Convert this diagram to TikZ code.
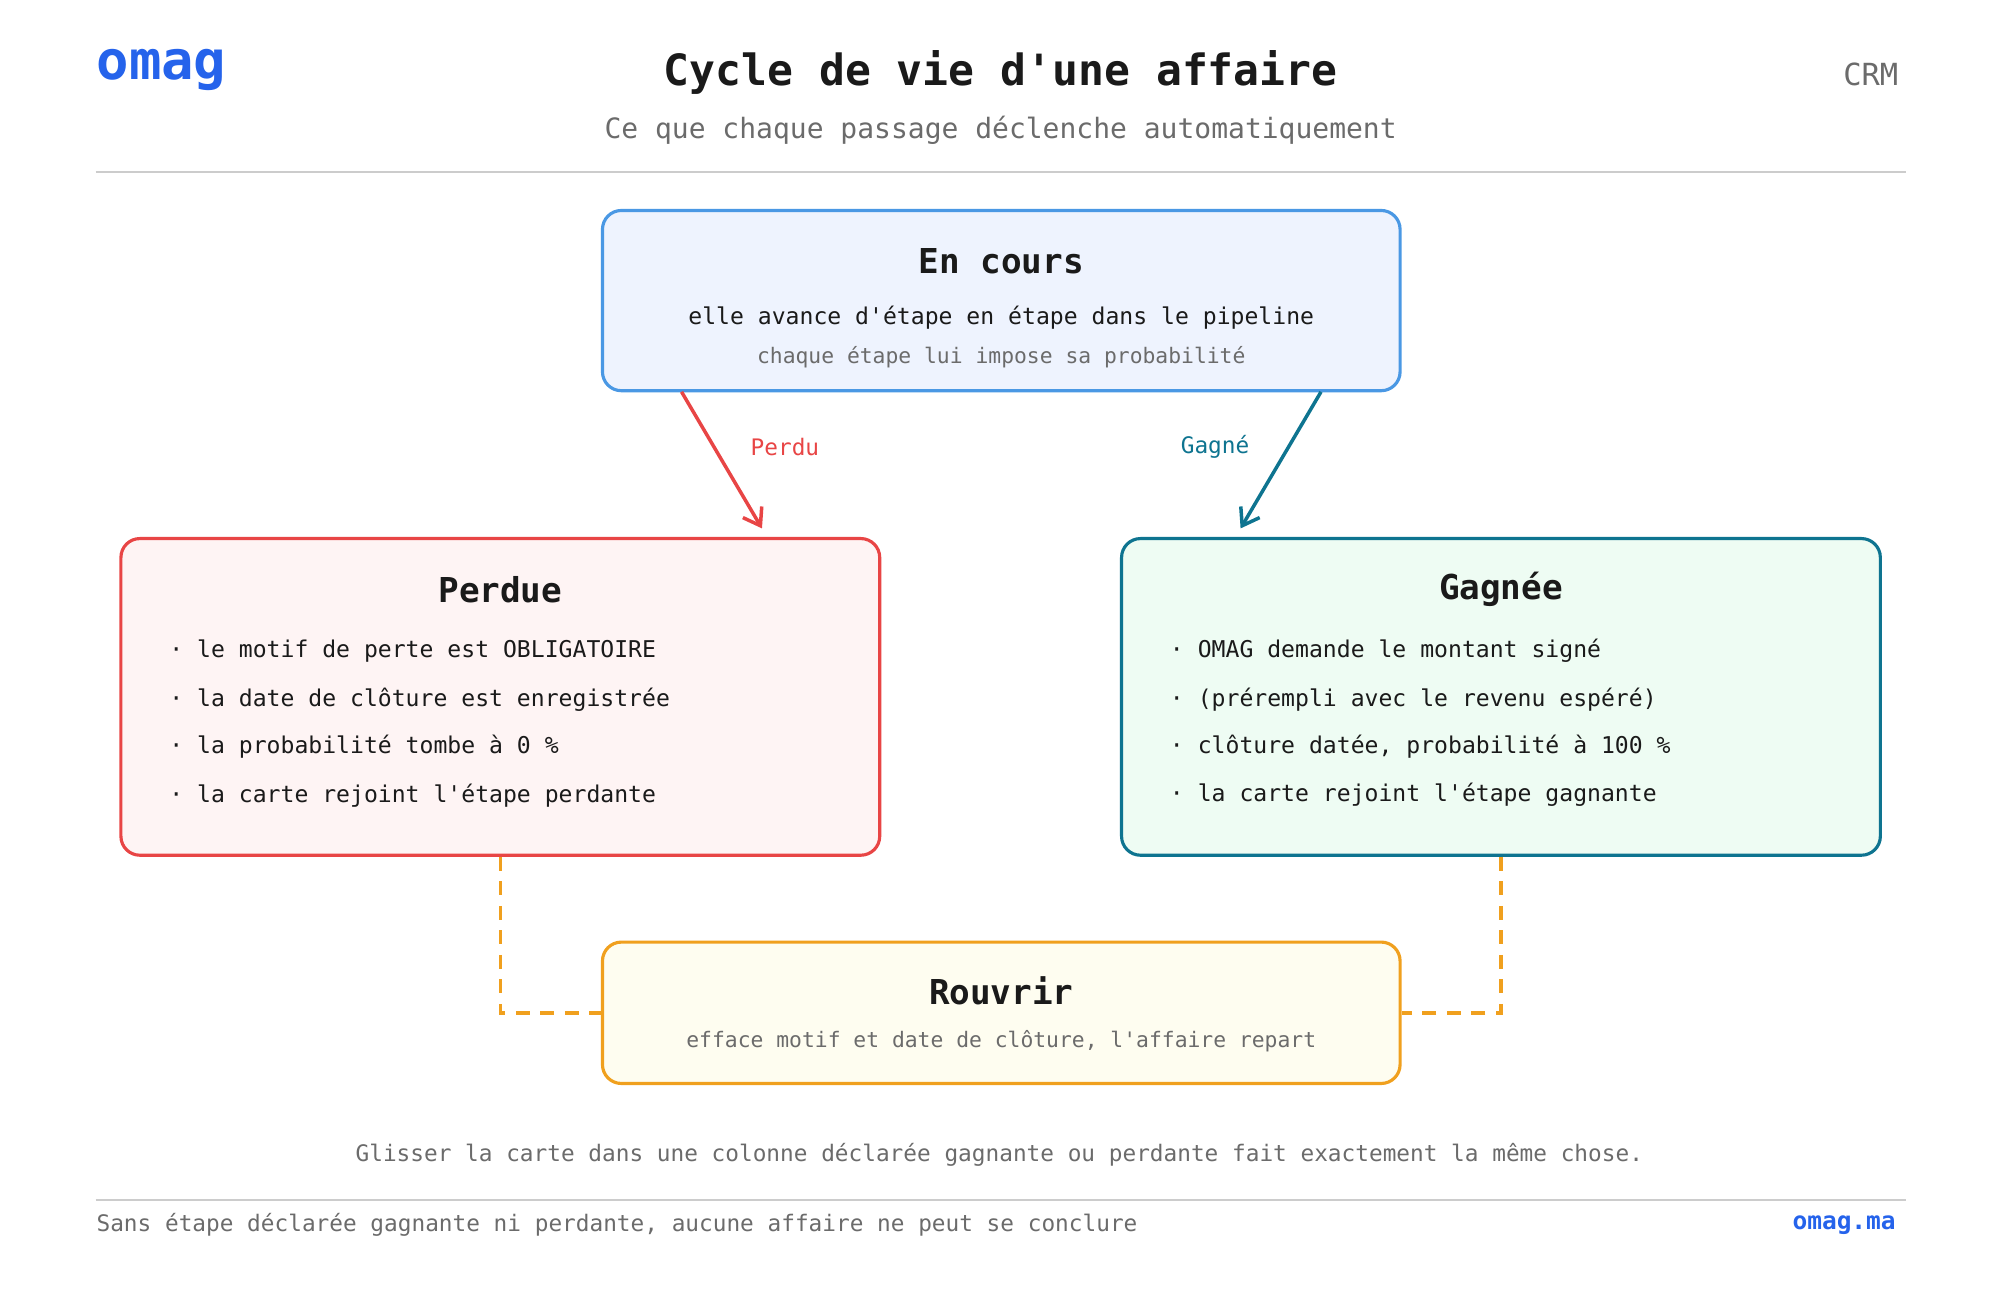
\documentclass[tikz,border=0pt]{standalone}
\usepackage{fontspec}
\setmainfont{DejaVu Sans Mono}
\setmonofont{DejaVu Sans Mono}
\usetikzlibrary{arrows.meta,positioning}
\definecolor{brand}{HTML}{2563EB}
\definecolor{ink}{HTML}{1A1A1A}
\definecolor{muted}{HTML}{6B6B6B}
\definecolor{rulegray}{HTML}{CCCCCC}
\definecolor{coursline}{HTML}{4A98E4}
\definecolor{coursfill}{HTML}{EEF3FE}
\definecolor{lostline}{HTML}{E84545}
\definecolor{lostfill}{HTML}{FEF4F4}
\definecolor{wonline}{HTML}{0E7490}
\definecolor{wonfill}{HTML}{EEFCF3}
\definecolor{reopenline}{HTML}{F0A01E}
\definecolor{reopenfill}{HTML}{FEFDF0}
\newcommand{\apos}{\textquotesingle}
\tikzset{
  state box/.style={draw=#1line,fill=#1fill,line width=0.9pt,rounded corners=0.19cm,inner sep=0pt},
  box title/.style={font=\fontsize{9.8}{11}\selectfont\bfseries,text=ink},
  box line/.style={font=\fontsize{6.6}{8}\selectfont,text=ink},
  box note/.style={font=\fontsize{6.1}{7}\selectfont,text=muted},
  item/.style={box line,anchor=west},
  edge label/.style={font=\fontsize{6.5}{8}\selectfont,text=#1},
}
\begin{document}
\begin{tikzpicture}[x=0.01282cm,y=-0.01282cm]
  \useasboundingbox (0,0) rectangle (1567,1019);

  % header
  \node[anchor=west,font=\fontsize{15.4}{18}\selectfont\bfseries,text=brand] (logo) at (66,55) {omag};
  \node[font=\fontsize{12.3}{14}\selectfont\bfseries,text=ink] (title) at (784,57) {Cycle de vie d\apos une affaire};
  \node[font=\fontsize{8}{10}\selectfont,text=muted] (subtitle) at (784,102) {Ce que chaque passage déclenche automatiquement};
  \node[anchor=east,font=\fontsize{8.7}{10}\selectfont,text=muted] (crm) at (1497,58) {CRM};
  \draw[rulegray,line width=0.5pt] (75,135) -- (1493,135);

  % states
  \node[state box=cours,minimum width=8.01cm,minimum height=1.81cm] (cours) at (784.5,235.5) {};
  \node[box title] (cours title) at (784.5,205) {En cours};
  \node[box line] (cours text) at (784.5,249) {elle avance d\apos étape en étape dans le pipeline};
  \node[box note] (cours note) at (784.5,280) {chaque étape lui impose sa probabilité};

  \node[state box=lost,minimum width=7.62cm,minimum height=3.18cm] (lost) at (392,546) {};
  \node[box title] (lost title) at (392,462) {Perdue};
  \node[item] (lost a) at (123,510) {· le motif de perte est OBLIGATOIRE};
  \node[item] (lost b) at (123,548) {· la date de clôture est enregistrée};
  \node[item] (lost c) at (123,585) {· la probabilité tombe à 0 \%};
  \node[item] (lost d) at (123,623) {· la carte rejoint l\apos étape perdante};

  \node[state box=won,minimum width=7.62cm,minimum height=3.18cm] (won) at (1176,546) {};
  \node[box title] (won title) at (1176,462) {Gagnée};
  \node[item] (won a) at (907,510) {· OMAG demande le montant signé};
  \node[item] (won b) at (907,548) {· (prérempli avec le revenu espéré)};
  \node[item] (won c) at (907,585) {· clôture datée, probabilité à 100 \%};
  \node[item] (won d) at (907,623) {· la carte rejoint l\apos étape gagnante};

  \node[state box=reopen,minimum width=8.01cm,minimum height=1.42cm] (reopen) at (784.5,793.5) {};
  \node[box title] (reopen title) at (784.5,776) {Rouvrir};
  \node[box note] (reopen note) at (784.5,816) {efface motif et date de clôture, l\apos affaire repart};

  % transitions
  \coordinate (lost from) at (534,307);
  \coordinate (lost to) at (597,414);
  \coordinate (won from) at (1035,307);
  \coordinate (won to) at (972,414);
  \draw[lostline,line width=1pt,-{Straight Barb[length=1.6mm,width=2.2mm]}] (lost from) -- (lost to);
  \draw[wonline,line width=1pt,-{Straight Barb[length=1.6mm,width=2.2mm]}] (won from) -- (won to);
  \node[edge label=lostline] (perdu) at (615,350) {Perdu};
  \node[edge label=wonline] (gagne) at (952,350) {Gagné};

  \draw[reopenline,line width=1pt,dash pattern=on 4pt off 3pt] (lost.south) |- (reopen.west);
  \draw[reopenline,line width=1pt,dash pattern=on 4pt off 3pt] (won.south) |- (reopen.east);

  % footer
  \node[font=\fontsize{6.5}{8}\selectfont,text=muted] (note) at (783,905) {Glisser la carte dans une colonne déclarée gagnante ou perdante fait exactement la même chose.};
  \draw[rulegray,line width=0.5pt] (75,940) -- (1493,940);
  \node[anchor=west,font=\fontsize{6.5}{8}\selectfont,text=muted] (rule note) at (66,960) {Sans étape déclarée gagnante ni perdante, aucune affaire ne peut se conclure};
  \node[anchor=east,font=\fontsize{7}{8}\selectfont\bfseries,text=brand] (site) at (1495,960) {omag.ma};
\end{tikzpicture}
\end{document}
